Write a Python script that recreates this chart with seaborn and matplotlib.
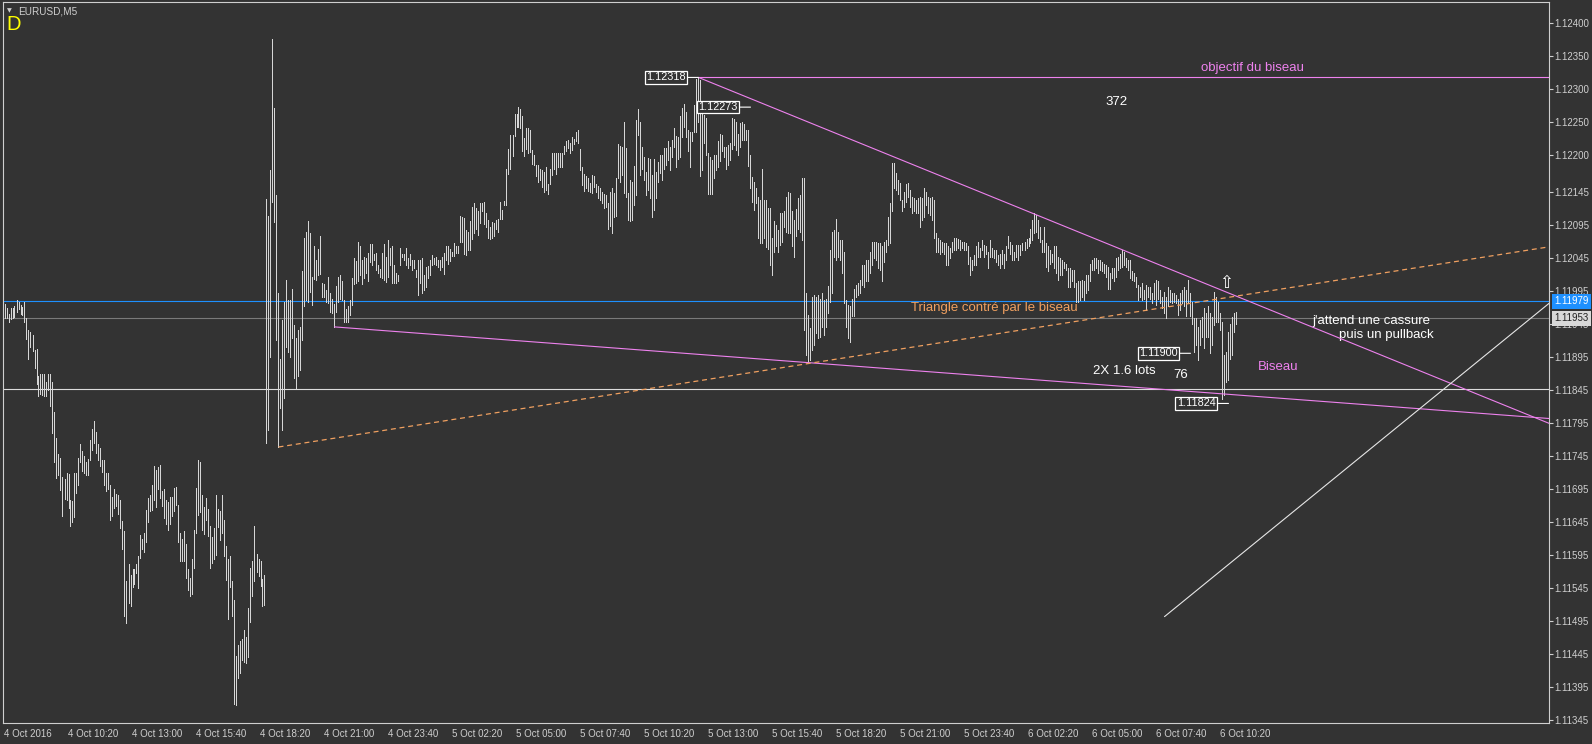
import numpy as np
import pandas as pd
import matplotlib
matplotlib.use("Agg")
import matplotlib.pyplot as plt
import seaborn as sns

# EURUSD M5 bars, high / low in points above 1.11000 (1 point = 0.00001)
high_pts = [
    975, 968, 960, 968, 969, 971, 980, 977, 973, 970,
    978, 953, 936, 933, 927, 905, 906, 866, 869, 868,
    868, 857, 868, 868, 856, 811, 772, 747, 742, 713,
    710, 719, 717, 677, 676, 719, 719, 742, 763, 752,
    744, 736, 740, 768, 786, 797, 780, 763, 757, 738,
    738, 719, 719, 701, 683, 695, 687, 685, 677, 646,
    630, 555, 580, 564, 573, 573, 581, 593, 624, 619,
    628, 662, 681, 685, 701, 729, 723, 728, 730, 692,
    694, 677, 675, 682, 683, 696, 698, 670, 628, 618,
    630, 611, 573, 560, 589, 633, 696, 738, 736, 686,
    667, 681, 664, 639, 622, 635, 686, 664, 661, 686,
    648, 608, 588, 593, 555, 526, 442, 458, 464, 467,
    480, 470, 514, 575, 586, 639, 596, 589, 586, 558,
    564,
    1134, 1108, 1178, 1376, 1271, 1140, 991, 892, 951,
    978, 1011, 980, 980, 997, 943, 923, 936, 940, 1025,
    1074, 1084, 1100, 1082, 1016, 1063, 1041, 1058, 1078, 1007,
    1005, 996, 1015, 991, 982, 975, 1002, 1016, 1019, 1010,
    981, 967, 971, 981, 1014, 1045, 1040, 1069, 1062, 1041,
    1046, 1045, 1052, 1066, 1066, 1051, 1052, 1034, 1027, 1052,
    1066, 1046, 1072, 1059, 1062, 1034, 1021, 1019, 1059, 1051,
    1051, 1059, 1044, 1051, 1041, 1041, 1026, 1041, 1042, 1044,
    1019, 1030, 1032, 1041, 1049, 1045, 1046, 1042, 1041, 1046,
    1052, 1062, 1063, 1058, 1054, 1067, 1062, 1063, 1108, 1107,
    1105, 1087, 1084, 1101, 1122, 1127, 1120, 1115, 1128, 1127,
    1130, 1113, 1102, 1092, 1099, 1097, 1102, 1104, 1130, 1117,
    1131, 1179, 1210, 1231, 1231, 1263, 1263, 1273, 1270, 1260,
    1226, 1241, 1241, 1238, 1208, 1200, 1186, 1185, 1179, 1178,
    1175, 1183, 1157, 1179, 1203, 1204, 1203, 1203, 1203, 1204,
    1214, 1222, 1223, 1218, 1227, 1224, 1236, 1239, 1209, 1183,
    1172, 1168, 1165, 1158, 1170, 1169, 1157, 1154, 1150, 1145,
    1141, 1140, 1127, 1145, 1150, 1143, 1165, 1217, 1214, 1212,
    1251, 1211, 1143, 1163, 1159, 1184, 1253, 1270, 1251, 1212,
    1198, 1174, 1196, 1194, 1170, 1194, 1174, 1190, 1200, 1200,
    1211, 1211, 1221, 1212, 1223, 1241, 1229, 1228, 1260, 1271,
    1278, 1266, 1239, 1236, 1236, 1276, 1316, 1318, 1314, 1279,
    1261, 1256, 1204, 1198, 1193, 1200, 1200, 1221, 1232, 1231,
    1213, 1212, 1216, 1218, 1256, 1255, 1251, 1232, 1249, 1251,
    1247, 1239, 1239, 1200, 1167, 1159, 1150, 1137, 1133, 1180,
    1133, 1133, 1120, 1120, 1074, 1100, 1094, 1087, 1112, 1112,
    1115, 1137, 1145, 1143, 1116, 1102, 1118, 1136, 1140, 1165,
    1165, 991, 958, 938, 986, 988, 985, 988, 982, 991,
    981, 982, 1002, 1057, 1084, 1087, 1103, 1084, 1072, 1072,
    1054, 981, 973, 971, 983, 998, 1003, 1006, 1011, 1034,
    1034, 1041, 1041, 1053, 1068, 1068, 1068, 1067, 1067, 1062,
    1068, 1072, 1107, 1127, 1189, 1188, 1173, 1163, 1158, 1132,
    1145, 1157, 1158, 1147, 1137, 1135, 1132, 1135, 1137, 1135,
    1150, 1145, 1137, 1135, 1137, 1132, 1082, 1074, 1072, 1069,
    1067, 1067, 1062, 1059, 1069, 1074, 1074, 1073, 1072, 1069,
    1068, 1067, 1062, 1046, 1041, 1049, 1062, 1069, 1059, 1072,
    1064, 1062, 1054, 1072, 1059, 1057, 1057, 1049, 1051, 1057,
    1051, 1062, 1077, 1069, 1064, 1054, 1064, 1064, 1064, 1067,
    1069, 1073, 1074, 1089, 1102, 1112, 1110, 1102, 1092, 1072,
    1092, 1067, 1062, 1057, 1051, 1062, 1062, 1046, 1044, 1041,
    1039, 1036, 1029, 1029, 1026, 1026, 1006, 1009, 1009, 1011,
    1009, 1019, 1019, 1036, 1041, 1044, 1044, 1041, 1041, 1039,
    1036, 1034, 1031, 1021, 1029, 1029, 1044, 1046, 1051, 1057,
    1054, 1044, 1041, 1041, 1024, 1021, 1016, 1003, 1001, 1006,
    996, 1003, 1001, 1001, 991, 1006, 1011, 1009, 996, 986,
    993, 986, 1001, 996, 991, 991, 988, 983, 991, 996,
    1001, 996, 1011, 991, 978, 953, 953, 940, 950, 955,
    968, 961, 971, 961, 955, 993, 986, 978, 961, 948,
    897, 902, 933, 945, 955, 961, 963,
]
low_pts = [
    954, 954, 947, 952, 954, 955, 962, 967, 959, 958,
    947, 922, 892, 910, 904, 877, 853, 836, 839, 837,
    835, 835, 844, 820, 779, 735, 711, 716, 693, 654,
    679, 677, 665, 638, 644, 652, 688, 700, 735, 721,
    718, 715, 715, 739, 754, 764, 749, 738, 729, 720,
    700, 691, 694, 647, 654, 666, 669, 656, 635, 603,
    502, 491, 521, 517, 546, 550, 567, 544, 590, 603,
    599, 614, 644, 661, 663, 677, 667, 695, 680, 669,
    650, 642, 632, 642, 654, 661, 670, 614, 586, 586,
    585, 560, 542, 532, 536, 575, 628, 655, 660, 632,
    626, 648, 623, 575, 582, 589, 594, 637, 617, 627,
    593, 556, 497, 546, 502, 369, 367, 408, 416, 435,
    432, 431, 440, 493, 532, 555, 568, 563, 547, 517,
    518,
    764, 784, 895, 1130, 1099, 920, 758, 817, 784,
    832, 910, 902, 895, 923, 862, 847, 866, 875, 920,
    972, 981, 977, 993, 973, 1012, 1011, 1019, 1020, 986,
    985, 977, 976, 962, 961, 940, 962, 978, 982, 981,
    948, 948, 948, 958, 973, 1005, 1007, 1010, 1019, 1005,
    1014, 1022, 1010, 1039, 1034, 1041, 1026, 1022, 1015, 1014,
    1011, 1008, 1016, 1034, 1006, 1006, 1006, 1009, 1034, 1046,
    1041, 1034, 1029, 1034, 1026, 1029, 1016, 988, 1006, 991,
    996, 1001, 1014, 1019, 1034, 1036, 1034, 1030, 1026, 1031,
    1020, 1041, 1036, 1040, 1047, 1047, 1052, 1052, 1069, 1068,
    1050, 1049, 1057, 1056, 1073, 1082, 1088, 1079, 1098, 1115,
    1096, 1092, 1074, 1073, 1074, 1077, 1088, 1084, 1103, 1103,
    1125, 1125, 1172, 1180, 1199, 1229, 1243, 1243, 1242, 1207,
    1199, 1209, 1204, 1205, 1187, 1185, 1168, 1160, 1163, 1152,
    1145, 1148, 1141, 1157, 1170, 1180, 1172, 1182, 1182, 1182,
    1202, 1207, 1211, 1204, 1208, 1217, 1221, 1218, 1178, 1155,
    1146, 1150, 1146, 1145, 1143, 1152, 1145, 1136, 1133, 1127,
    1120, 1122, 1089, 1093, 1083, 1107, 1108, 1165, 1159, 1170,
    1143, 1137, 1102, 1100, 1102, 1125, 1140, 1231, 1170, 1180,
    1162, 1140, 1147, 1135, 1107, 1117, 1135, 1160, 1173, 1163,
    1179, 1185, 1193, 1178, 1198, 1213, 1183, 1195, 1198, 1227,
    1243, 1228, 1206, 1183, 1221, 1236, 1236, 1250, 1168, 1178,
    1218, 1200, 1142, 1141, 1141, 1165, 1178, 1183, 1192, 1206,
    1198, 1180, 1185, 1193, 1209, 1216, 1208, 1200, 1212, 1223,
    1223, 1223, 1184, 1150, 1130, 1117, 1127, 1074, 1067, 1067,
    1074, 1061, 1058, 1034, 1019, 1054, 1062, 1054, 1064, 1069,
    1092, 1084, 1082, 1082, 1062, 1046, 1077, 1089, 1084, 1072,
    935, 898, 887, 890, 905, 913, 930, 923, 925, 940,
    928, 940, 961, 978, 991, 1046, 1042, 1046, 1041, 1021,
    976, 940, 923, 917, 956, 956, 985, 988, 991, 1004,
    1001, 1009, 1010, 1021, 1034, 1044, 1041, 1029, 1026, 1009,
    1039, 1054, 1064, 1067, 1115, 1150, 1147, 1142, 1132, 1115,
    1122, 1130, 1137, 1122, 1112, 1115, 1112, 1113, 1092, 1102,
    1107, 1125, 1112, 1110, 1102, 1074, 1054, 1054, 1051, 1054,
    1051, 1034, 1034, 1044, 1054, 1057, 1057, 1059, 1057, 1059,
    1057, 1057, 1036, 1019, 1026, 1034, 1034, 1046, 1046, 1057,
    1046, 1051, 1029, 1046, 1046, 1044, 1039, 1034, 1029, 1036,
    1029, 1041, 1059, 1051, 1041, 1041, 1046, 1041, 1049, 1057,
    1057, 1059, 1062, 1067, 1072, 1082, 1084, 1074, 1069, 1054,
    1054, 1031, 1024, 1036, 1039, 1029, 1021, 1011, 1019, 1019,
    1029, 1026, 1001, 1001, 1009, 1001, 978, 978, 981, 986,
    981, 991, 996, 1009, 1026, 1026, 1029, 1021, 1026, 1024,
    1021, 1016, 998, 998, 1014, 1009, 1016, 1026, 1029, 1031,
    1034, 1031, 1026, 1014, 1011, 1009, 1001, 981, 986, 981,
    983, 966, 986, 983, 976, 983, 973, 983, 976, 968,
    961, 953, 971, 978, 976, 978, 976, 958, 966, 976,
    971, 956, 976, 956, 945, 902, 913, 890, 913, 925,
    908, 925, 925, 900, 913, 943, 948, 948, 935, 830,
    837, 857, 860, 892, 897, 933, 945,
]
first_bar = "2016-10-04 07:40"

# horizontal levels
blue_level = 1.11979
bid_level = 1.11953
white_level = 1.11846
objectif_level = 1.12318

# trend lines: (bar index, price) anchor pairs, drawn as rays to the right
biseau_top = [(347, 1.12318), (760, 1.11809)]
biseau_bottom = [(165, 1.11940), (760, 1.11804)]
triangle_line = [(137, 1.11758), (403, 1.11885)]
white_ray = [(580, 1.11501), (772, 1.11975)]

# price labels: (bar index, price)
price_labels = [(347, 1.12318), (373, 1.12273), (593, 1.11900), (612, 1.11824)]

y_ticks = [1.12400, 1.12350, 1.12300, 1.12250, 1.12200, 1.12145, 1.12095,
           1.12045, 1.11995, 1.11945, 1.11895, 1.11845, 1.11795, 1.11745,
           1.11695, 1.11645, 1.11595, 1.11545, 1.11495, 1.11445, 1.11395,
           1.11345]

BG = "#333333"
FG = "#cfcfcf"
VIOLET = "#ee82ee"
ORANGE = "#f0a060"

sns.set_theme(style="dark", rc={"axes.facecolor": BG, "figure.facecolor": BG,
                                "axes.edgecolor": FG, "axes.grid": False})
plt.rcParams["font.family"] = ["Liberation Sans", "DejaVu Sans"]

highs = 1.11 + np.array(high_pts) / 1e5
lows = 1.11 + np.array(low_pts) / 1e5
idx = np.arange(len(highs))
times = pd.date_range(first_bar, periods=len(highs), freq="5min")

W, H = 1592, 744
fig = plt.figure(figsize=(W / 100, H / 100), dpi=100)
ax = fig.add_axes([3 / W, 21 / H, 1546 / W, 721 / H])
ax.set_facecolor(BG)
x_lim = (-0.75, 772.25)
ax.set_xlim(*x_lim)
ax.set_ylim(1.113398, 1.124323)

# bars (1 px wide, 1 px gap)
ax.vlines(idx, lows, highs, colors="#d6d6d6", linewidth=0.72, antialiased=False, zorder=3)

# horizontal lines
ax.axhline(blue_level, color="#1e90ff", lw=0.8, zorder=2)
ax.axhline(bid_level, color="#7a7a7a", lw=0.8, zorder=2)
ax.axhline(white_level, color="#dcdcdc", lw=0.8, zorder=2)
ax.plot([347, x_lim[1]], [objectif_level, objectif_level], color=VIOLET, lw=0.8, zorder=2)


def ray(anchors):
    (x0, y0), (x1, y1) = anchors
    slope = (y1 - y0) / (x1 - x0)
    xs = np.array([x0, x_lim[1]])
    return xs, y0 + slope * (xs - x0)


for anchors, col in [(biseau_top, VIOLET), (biseau_bottom, VIOLET), (white_ray, "#e6e6e6")]:
    xs, ys = ray(anchors)
    sns.lineplot(x=xs, y=ys, ax=ax, color=col, lw=0.8, zorder=4)

xs, ys = ray(triangle_line)
ax.plot(xs, ys, color=ORANGE, lw=0.9, linestyle=(0, (4, 3)), zorder=4)

# price labels with pointer
for bar, price in price_labels:
    ax.annotate(f"{price:.5f}", xy=(bar, price), xytext=(-13, 0), textcoords="offset pixels",
                ha="right", va="center", fontsize=7.8, color="white", zorder=6,
                bbox=dict(boxstyle="square,pad=0.12", fc=BG, ec="white", lw=0.9),
                arrowprops=dict(arrowstyle="-", color="white", lw=0.8, shrinkA=0, shrinkB=0))

# text objects
ax.text(624, 1.123323, "objectif du biseau", color=VIOLET, fontsize=9.5, ha="center", va="center")
ax.text(556, 1.122808, "372", color="white", fontsize=9.5, ha="center", va="center")
ax.text(495, 1.119682, "Triangle contré par le biseau", color=ORANGE, fontsize=9.5,
        ha="center", va="center", zorder=5)
ax.text(683.5, 1.119489, "j'attend une cassure", color="white", fontsize=9.5, ha="center", va="center")
ax.text(691, 1.119277, "puis un pullback", color="white", fontsize=9.5, ha="center", va="center")
ax.text(637, 1.118792, "Biseau", color=VIOLET, fontsize=9.5, ha="center", va="center")
ax.text(560, 1.118732, "2X 1.6 lots", color="white", fontsize=9.5, ha="center", va="center")
ax.text(588, 1.118671, "76", color="white", fontsize=9.5, ha="center", va="center")
ax.text(611, 1.120058, "\u21e7", color="white", fontsize=12, ha="center", va="center",
        family="DejaVu Sans")

# axes styling
for sp in ax.spines.values():
    sp.set_visible(True)
    sp.set_color(FG)
    sp.set_linewidth(0.8)
ax.yaxis.tick_right()
ax.set_yticks(y_ticks)
ax.set_yticklabels([f"{v:.5f}" for v in y_ticks])
ticks = idx[::32]
labels = [f"{times[0].day} {times[0]:%b %Y}"] + [f"{t.day} {t:%b %H:%M}" for t in times[ticks][1:]]
ax.set_xticks(ticks)
ax.set_xticklabels(labels, ha="left")
ax.tick_params(axis="both", direction="out", length=3, width=0.8, color=FG,
               labelcolor=FG, labelsize=7)
ax.tick_params(axis="y", pad=1)
ax.tick_params(axis="x", pad=1)
ax.set_xlabel("")
ax.set_ylabel("")

# current price tags on the price scale
ytr = ax.get_yaxis_transform()
ax.annotate(f"{blue_level:.5f}", xy=(1, blue_level), xycoords=ytr, xytext=(5, 0),
            textcoords="offset pixels", ha="left", va="center", fontsize=7, color="white",
            bbox=dict(boxstyle="square,pad=0.25", fc="#1e90ff", ec="none"),
            annotation_clip=False, zorder=10)
ax.annotate(f"{bid_level:.5f}", xy=(1, bid_level), xycoords=ytr, xytext=(5, 0),
            textcoords="offset pixels", ha="left", va="center", fontsize=7, color="#202020",
            bbox=dict(boxstyle="square,pad=0.25", fc="#d8d8d8", ec="none"),
            annotation_clip=False, zorder=10)

# chart header
fig.text(7 / W, 1 - 11 / H, "\u25bc", color=FG, fontsize=4.5, va="center", family="DejaVu Sans")
fig.text(18 / W, 1 - 11 / H, "EURUSD,M5", color=FG, fontsize=7.2, va="center")
fig.text(6 / W, 1 - 25 / H, "D", color="#ffff00", fontsize=14.5, va="center")

fig.savefig("out.png", dpi=100, facecolor=BG)
